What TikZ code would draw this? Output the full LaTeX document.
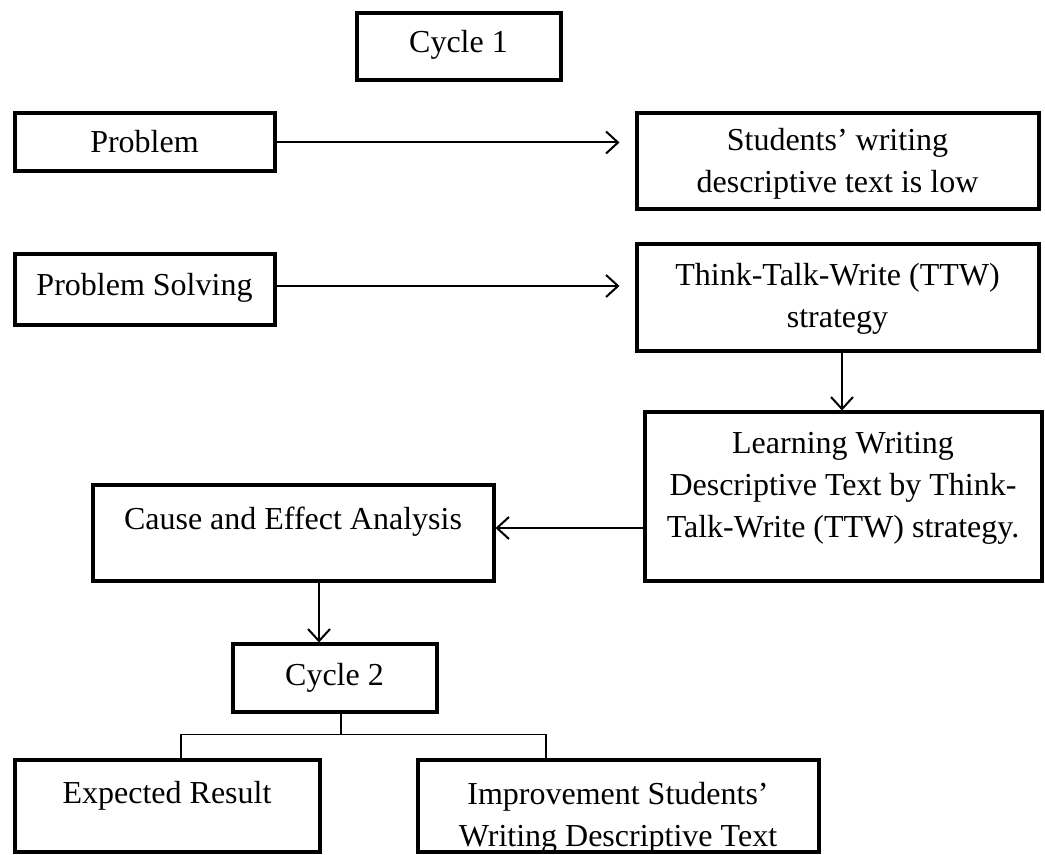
\documentclass[tikz,border=0pt]{standalone}
\usepackage{fontspec}
\setmainfont{Liberation Serif}
\usepackage{tikz}
\usetikzlibrary{positioning,arrows.meta}
\tikzset{
  box/.style={rectangle, draw, line width=2pt, inner xsep=0pt, inner ysep=0pt,
              font=\fontsize{16}{21}\selectfont, align=center},
  fwd/.style={->, line width=1pt, >={Straight Barb[length=6pt,width=11pt]}},
  branch/.style={line width=0.8pt},
}

\begin{document}
\begin{tikzpicture}[x=0.5pt, y=-0.5pt]
\useasboundingbox (0,0) rectangle (1045,855);

%Nodes
\node[box, minimum width=102pt, text height=19.75pt, text depth=13.75pt] (cycle1) at (458.5,47) {Cycle 1};
\node[box, minimum width=130pt, text height=19.75pt, text depth=9.25pt] (problem) at (144.5,142.5) {Problem};
\node[box, minimum width=201pt, text height=39.75pt, text depth=8.25pt] (students) at (837.5,161.5) {Students' writing\\descriptive text is low};
\node[box, minimum width=130pt, text height=20.75pt, text depth=14.75pt] (solving) [below=39.5pt of problem] {Problem Solving};
\node[box, minimum width=201pt, text height=41.75pt, text depth=11.75pt] (ttw) [below=15.5pt of students] {Think-Talk-Write (TTW)\\strategy};
\node[box, minimum width=198.5pt, text height=62.75pt, text depth=21.75pt] (learning) at (843,497) {Learning Writing\\Descriptive Text by Think-\\Talk-Write (TTW) strategy.};
\node[box, minimum width=200.5pt, text height=22.25pt, text depth=25.75pt] (cause) at (293,533.5) {Cause and Effect Analysis};
\node[box, minimum width=102pt, text height=20.25pt, text depth=13.25pt] (cycle2) at (334.5,678) {Cycle 2};
\node[box, minimum width=152.5pt, text height=21.75pt, text depth=24.25pt] (expected) at (167,805.5) {Expected Result};
\node[box, minimum width=200.5pt, text height=43.25pt, text depth=2.75pt] (improve) [right=47pt of expected] {Improvement Students'\\Writing Descriptive Text};

%Lines
\draw[fwd, shorten >=7.5pt] (problem.east) -- (problem.east -| students.west);
\draw[fwd, shorten >=7.5pt] ([yshift=2pt]solving.east) -- ([yshift=2pt]solving.east -| ttw.west);
\draw[fwd] ([xshift=2.25pt]ttw.south) -- ([xshift=2.25pt]ttw.south |- learning.north);
\draw[fwd] ([yshift=2.75pt]cause.east -| learning.west) -- ([yshift=2.75pt]cause.east);
\draw[fwd] ([xshift=-7.75pt]cycle2.north |- cause.south) -- ([xshift=-7.75pt]cycle2.north);
\draw[branch] ([xshift=3.25pt]cycle2.south) -- ++(0pt,-10.5pt) coordinate (fork);
\draw[branch] ([xshift=7pt]expected.north) |- (fork) -| ([xshift=-36pt]improve.north);
\end{tikzpicture}
\end{document}
